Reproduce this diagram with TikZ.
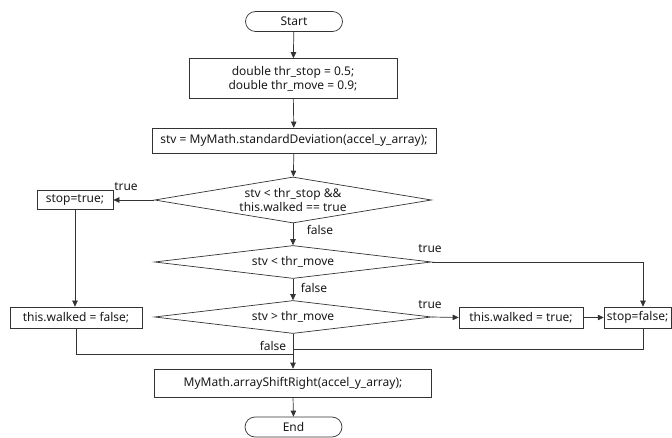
\documentclass[tikz,border=0pt]{standalone}
\usepackage{fontspec}
\setmainfont{Noto Sans}
\usetikzlibrary{shapes.geometric,shapes.misc,arrows.meta}
\tikzset{
  x=1pt,y=-1pt,
  every node/.style={font=\fontsize{12}{14}\selectfont, text=black!90},
  proc/.style={draw, rectangle, inner sep=0pt, align=center},
  term/.style={draw, rounded rectangle, inner sep=0pt, minimum width=97pt, minimum height=20pt},
  dec/.style={draw, diamond, aspect=6, inner sep=0pt, align=center, minimum width=277pt},
  lbl/.style={inner sep=0pt},
  flow/.style={draw=black!80, line width=0.7pt},
  arr/.style={flow, -{Triangle[length=6pt,width=5.5pt]}},
}
\begin{document}
\begin{tikzpicture}
\useasboundingbox (0,0) rectangle (672,438);
\begin{scope}[every path/.style={draw=black!80, line width=0.7pt}]
\node[term] (start) at (294,21.5) {Start};
\node[proc, minimum width=208pt, minimum height=40pt] (init) at (293,78.5) {double thr\_stop = 0.5;\\double thr\_move = 0.9;};
\node[proc, minimum width=284pt, minimum height=25pt] (stv) at (294,140.5) {stv = MyMath.standardDeviation(accel\_y\_array);};
\node[dec, minimum height=46pt] (d1) at (293,200) {stv < thr\_stop \&\&\\this.walked == true};
\node[dec, minimum height=33pt] (d2) at (293,262) {stv < thr\_move};
\node[dec, minimum height=33pt] (d3) at (293,317) {stv > thr\_move};
\node[proc, minimum width=76pt, minimum height=19pt] (stoptrue) at (75,200) {stop=true;};
\node[proc, minimum width=132pt, minimum height=21pt] (wfalse) at (76,317.5) {this.walked = false;};
\node[proc, minimum width=124pt, minimum height=21pt] (wtrue) at (521,317.5) {this.walked = true;};
\node[proc, minimum width=67pt, minimum height=21pt] (stopfalse) at (637.6,317.5) {stop=false;};
\node[proc, minimum width=277pt, minimum height=28pt] (shift) at (293,383) {MyMath.arrayShiftRight(accel\_y\_array);};
\node[term] (end) at (293.5,427) {End};
\end{scope}

\coordinate (c1) at (643,262);
\coordinate (c2) at (76,354);
\coordinate (c3) at (293,354);
\coordinate (c4) at (643,349);
\coordinate (c5) at (293,349);

\draw[arr] (start) -- (init);
\draw[arr] (init) -- (stv);
\draw[arr] (stv) -- (d1);
\draw[arr] (d1.west) -- (stoptrue.east);
\draw[arr] (d1.south) -- (d2.north);
\draw[arr] (d2.south) -- (d3.north);
\draw[arr] (d2.east) -- (c1) -- (c1 |- stopfalse.north);
\draw[arr] (d3.east) -- (wtrue.west);
\draw[arr] (wtrue.east) -- (stopfalse.west);
\draw[arr] (stoptrue.south) -- (stoptrue.south |- wfalse.north);
\draw[flow] (wfalse.south) -- (c2) -- (c3);
\draw[flow] (c4 |- stopfalse.south) -- (c4) -- (c5);
\draw[arr] (d3.south) -- (shift.north);
\draw[arr] (shift.south) -- (end.north);

\node[lbl] (t1) at (126,187) {true};
\node[lbl] (f1) at (320,230) {false};
\node[lbl] (t2) at (430,249) {true};
\node[lbl] (f2) at (314,288) {false};
\node[lbl] (t3) at (430,305) {true};
\node[lbl] (f3) at (273,346) {false};
\end{tikzpicture}
\end{document}
